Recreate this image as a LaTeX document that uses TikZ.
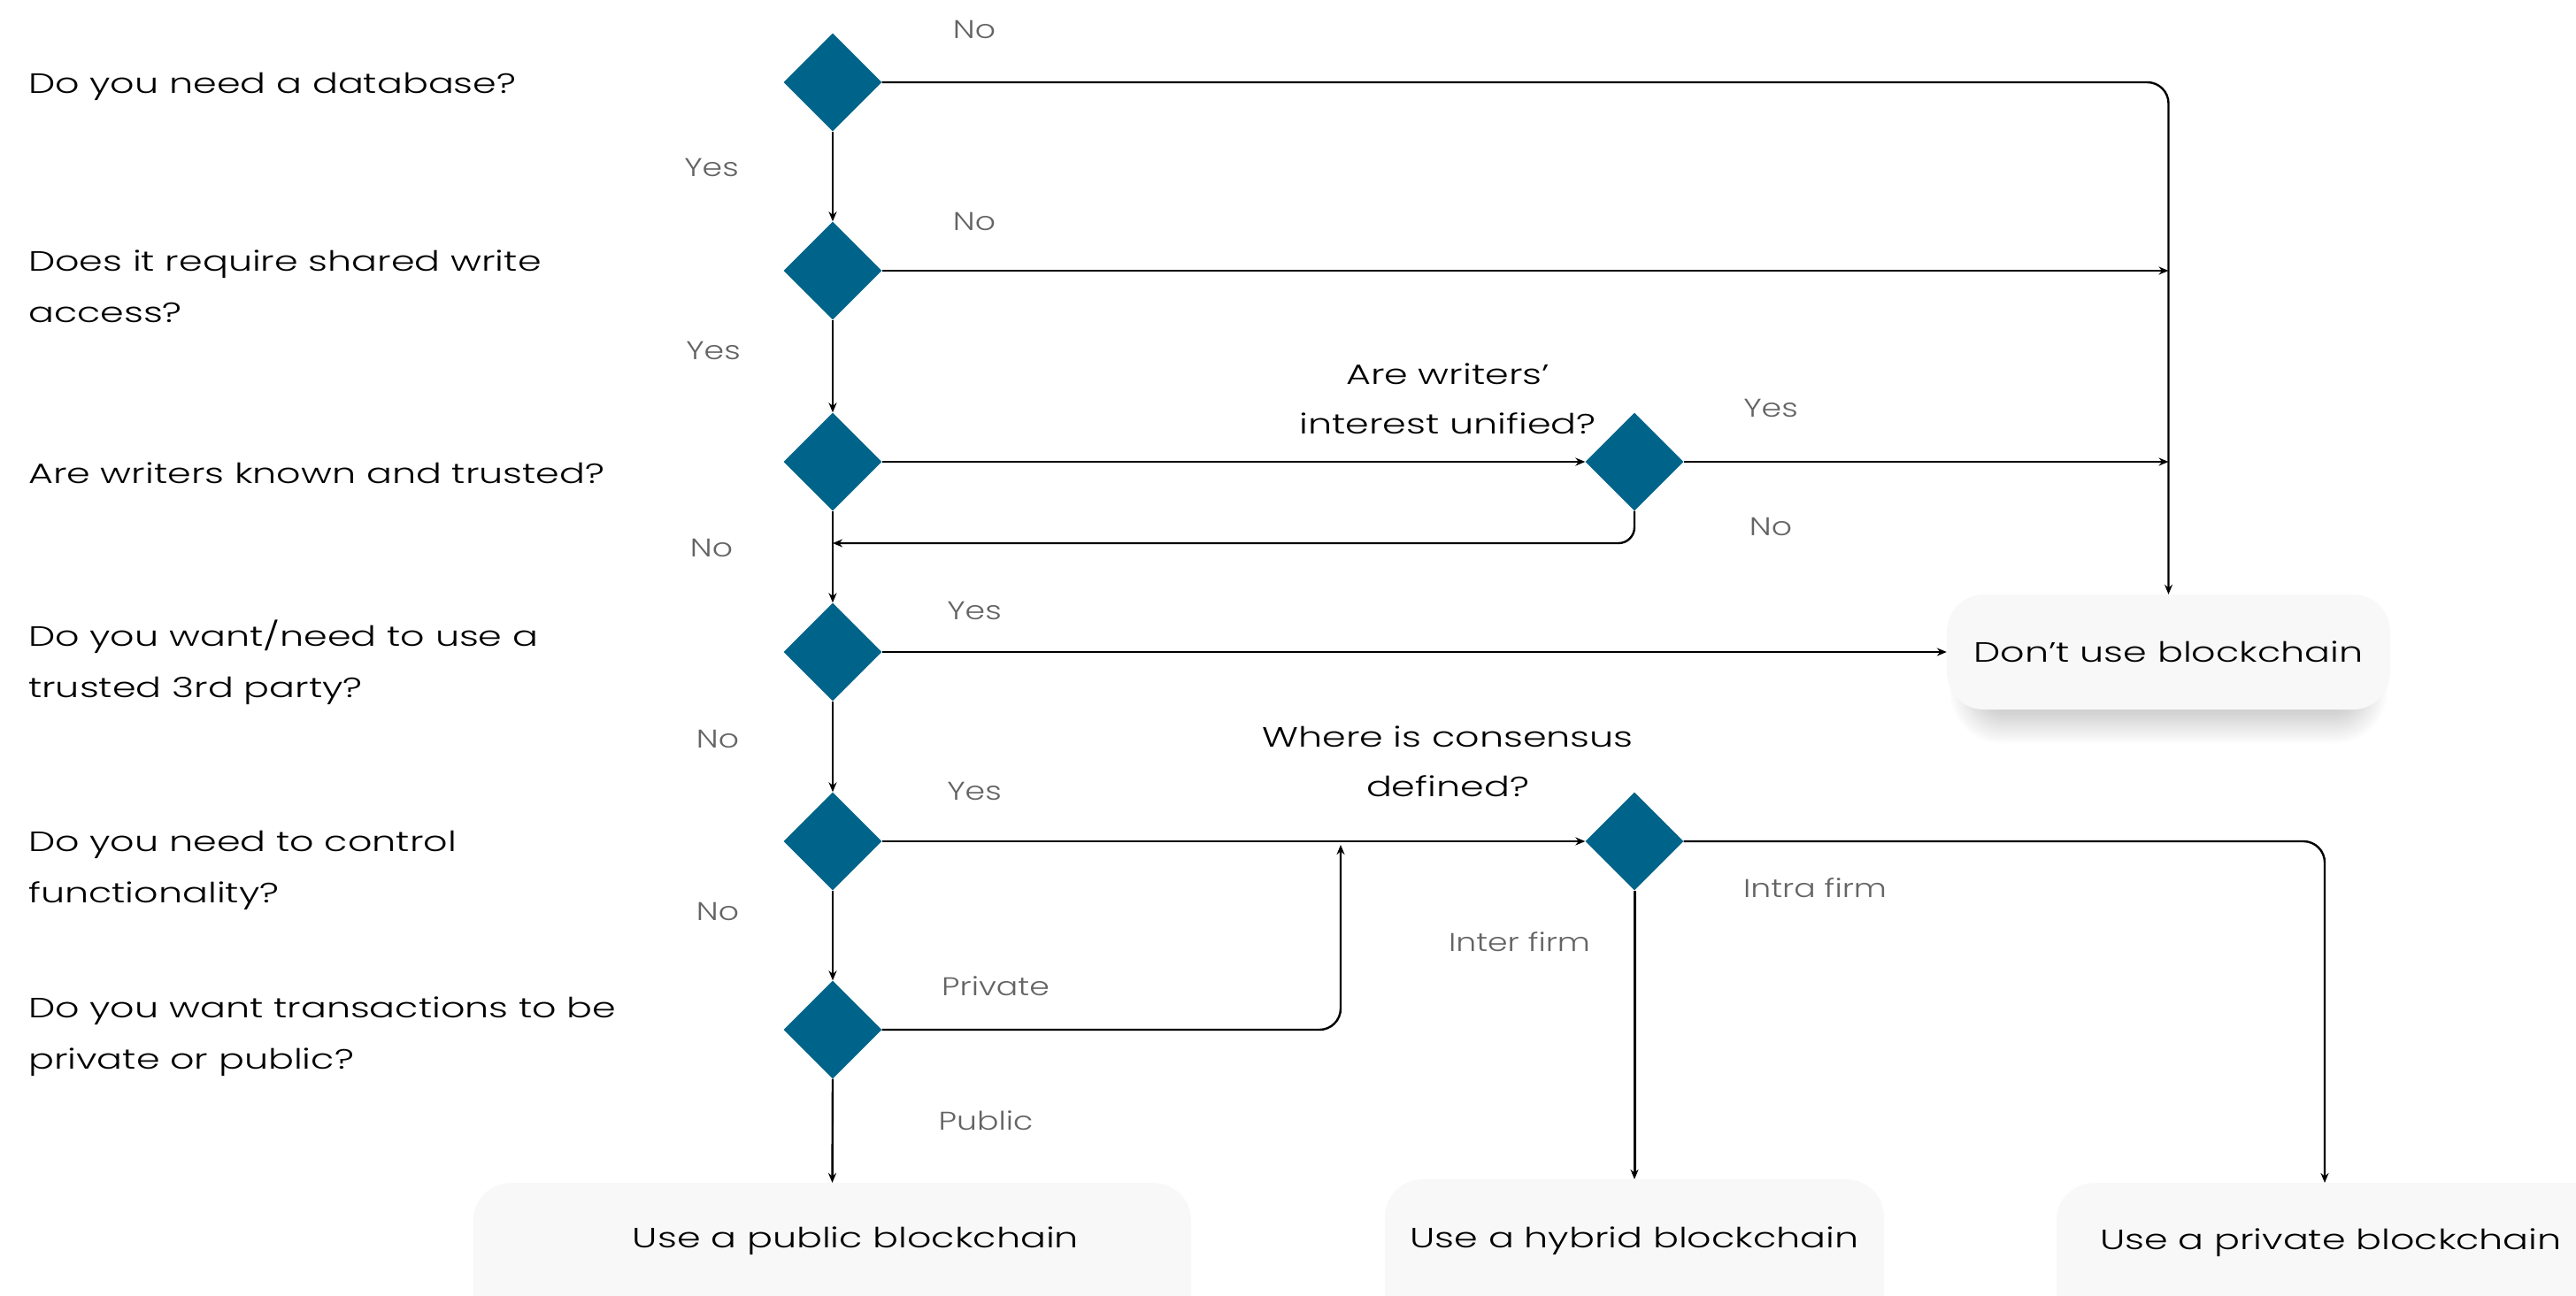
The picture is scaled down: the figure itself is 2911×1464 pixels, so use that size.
\documentclass[tikz,border=0pt]{standalone}
\usepackage{fontspec}
\setmainfont{Poppins}
\newfontfamily\wfont{Poppins}[UprightFont={* Light}, FakeStretch=1.36]
\newfontfamily\lfont{Poppins}[UprightFont={* Light}, FakeStretch=1.25]
\usetikzlibrary{arrows.meta,shapes.geometric,shadows.blur}
\definecolor{dia}{RGB}{0,100,138}
\definecolor{lbl}{RGB}{100,100,100}
\definecolor{boxfill}{RGB}{248,248,248}
\begin{document}
\begin{tikzpicture}[x=1pt,y=-1pt,
  dec/.style={diamond, aspect=1, fill=dia, minimum width=111pt, minimum height=111pt, inner sep=0pt},
  conn/.style={line width=2.4pt, -{Stealth[length=11pt,width=9pt]}},
  q/.style={anchor=west, align=left, inner sep=0pt, font=\wfont\fontsize{31.5}{58}\selectfont},
  mid/.style={align=center, inner sep=0pt, font=\wfont\fontsize{31.5}{56}\selectfont},
  ans/.style={text=lbl, inner sep=0pt, font=\lfont\fontsize{29}{36}\selectfont},
  term/.style={fill=boxfill, rounded corners=42pt},
  termtext/.style={inner sep=0pt, font=\wfont\fontsize{31.5}{40}\selectfont}]
\useasboundingbox (0,0) rectangle (2911,1464);
\begin{scope}
\clip (0,0) rectangle (2911,1464);
% questions
\node[q] (q1) at (32,98) {Do you need a database?};
\node[q] (q2) at (32,324) {Does it require shared write\\access?};
\node[q] (q3) at (32,535) {Are writers known and trusted?};
\node[q] (q4) at (32,749) {Do you want/need to use a\\trusted 3rd party?};
\node[q] (q5) at (32,984) {Do you need to control\\functionality?};
\node[q] (q6) at (32,1172) {Do you want transactions to be\\private or public?};
% diamonds
\node[dec] (d1) at (941,93) {};
\node[dec] (d2) at (941,306) {};
\node[dec] (d3) at (941,522) {};
\node[dec] (d4) at (941,737) {};
\node[dec] (d5) at (941,951) {};
\node[dec] (d6) at (941,1164) {};
\node[dec] (d3b) at (1847,522) {};
\node[dec] (d5b) at (1847,951) {};
% middle questions
\node[mid] (m1) at (1636,451) {Are writers’\\interest unified?};
\node[mid] (m2) at (1636,861) {Where is consensus\\defined?};
% terminals
\node[term, blur shadow={shadow xshift=0pt, shadow yshift=-26pt, shadow scale=0.9, shadow blur radius=26pt, shadow blur steps=30, shadow opacity=22},
      minimum width=501pt, minimum height=130pt, font=\wfont\fontsize{31.5}{40}\selectfont] (dont) at (2450.5,737) {Don’t use blockchain};
\node[term, minimum width=811pt, minimum height=260pt, anchor=north] (pubbox) at (940.5,1337) {};
\node[term, minimum width=564pt, minimum height=260pt, anchor=north] (hybbox) at (1847,1333) {};
\node[term, minimum width=636pt, minimum height=260pt, anchor=north] (privbox) at (2642,1337) {};
\node[termtext] (pub) at (967,1403) {Use a public blockchain};
\node[termtext] (hyb) at (1847,1403) {Use a hybrid blockchain};
\node[termtext] (priv) at (2634,1405) {Use a private blockchain};
\coordinate (privin) at (2627,1337);
\coordinate (loopend) at (941,614);
\coordinate (pvtup) at (1515,955);
% connectors
\draw[conn] (d1.south) -- (d2.north);
\draw[conn] (d2.south) -- (d3.north);
\draw[conn] (d3.south) -- (d4.north);
\draw[conn] (d4.south) -- (d5.north);
\draw[conn] (d5.south) -- (d6.north);
\draw[conn] (d6.south) -- (pubbox.north);
\draw[conn, rounded corners=24pt] (d1.east) -| (dont.north);
\draw[conn] (d2.east) -- (d2.east -| dont.north);
\draw[conn] (d3.east) -- (d3b.west);
\draw[conn] (d3b.east) -- (d3b.east -| dont.north);
\draw[conn, rounded corners=18pt] (d3b.south) |- (loopend);
\draw[conn] (d4.east) -- (dont.west);
\draw[conn] (d5.east) -- (d5b.west);
\draw[conn, rounded corners=24pt] (d6.east) -| (pvtup);
\draw[conn, line width=3pt] (d5b.south) -- (hybbox.north);
\draw[conn, rounded corners=24pt] (d5b.east) -| (privin);
% answer labels
\node[ans] (a1) at (1101,33) {No};
\node[ans] (a2) at (804,189) {Yes};
\node[ans] (a3) at (1101,250) {No};
\node[ans] (a4) at (806,396) {Yes};
\node[ans] (a5) at (2001,461) {Yes};
\node[ans] (a6) at (2001,595) {No};
\node[ans] (a7) at (804,619) {No};
\node[ans] (a8) at (1101,690) {Yes};
\node[ans] (a9) at (811,835) {No};
\node[ans] (a10) at (1101,894) {Yes};
\node[ans] (a11) at (811,1030) {No};
\node[ans] (a12) at (1125,1115) {Private};
\node[ans] (a13) at (1114,1267) {Public};
\node[ans] (a14) at (1717,1065) {Inter firm};
\node[ans] (a15) at (2051,1004) {Intra firm};
\end{scope}
\end{tikzpicture}
\end{document}
